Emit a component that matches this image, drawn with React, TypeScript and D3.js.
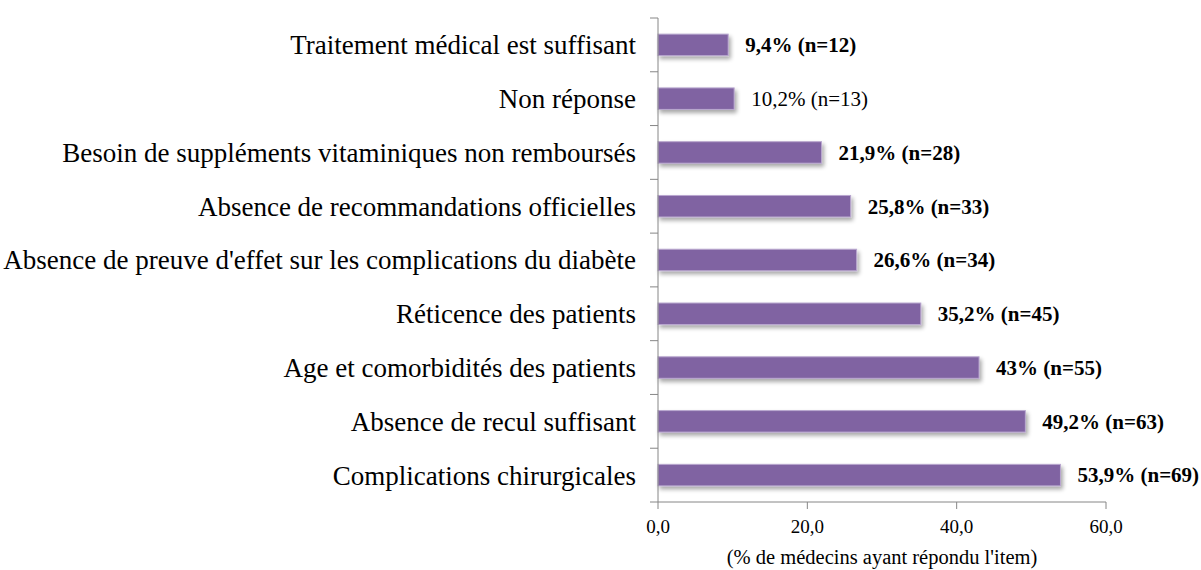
import React from "react";
import * as d3 from "d3";

const categories = [
  "Traitement médical est suffisant",
  "Non réponse",
  "Besoin de suppléments vitaminiques non remboursés",
  "Absence de recommandations officielles",
  "Absence de preuve d'effet sur les complications du diabète",
  "Réticence des patients",
  "Age et comorbidités des patients",
  "Absence de recul suffisant",
  "Complications chirurgicales",
];
const values = [9.4, 10.2, 21.9, 25.8, 26.6, 35.2, 43, 49.2, 53.9];
const labels = [
  "9,4% (n=12)",
  "10,2% (n=13)",
  "21,9% (n=28)",
  "25,8% (n=33)",
  "26,6% (n=34)",
  "35,2% (n=45)",
  "43% (n=55)",
  "49,2% (n=63)",
  "53,9% (n=69)",
];
const boldLabel = [true, false, true, true, true, true, true, true, true];
const xTicks = [0, 20, 40, 60];
const xTickLabels = ["0,0", "20,0", "40,0", "60,0"];
const axisTitle = "(% de médecins ayant répondu l'item)";

export default function App() {
  const W = 1201, H = 570;
  const x0 = 658, x1 = 1106, yTop = 18, yBot = 502;
  const x = d3.scaleLinear().domain([0, 60]).range([x0, x1]);
  const y = d3.scaleBand().domain(categories).range([yTop, yBot]).paddingInner(0.6).paddingOuter(0.3);
  const yEdges = d3.range(categories.length + 1).map((i) => yTop + ((yBot - yTop) * i) / categories.length);
  const font = "'Liberation Serif', 'Times New Roman', serif";
  return (
    <svg width={W} height={H} style={{ position: "absolute", left: 0, top: 0, background: "#fff" }}>
      <defs>
        <filter id="sh" x="-5%" y="-30%" width="115%" height="190%">
          <feGaussianBlur in="SourceAlpha" stdDeviation="2" />
          <feOffset dx="2" dy="3" result="b" />
          <feComponentTransfer><feFuncA type="linear" slope="0.35" /></feComponentTransfer>
          <feMerge><feMergeNode /><feMergeNode in="SourceGraphic" /></feMerge>
        </filter>
      </defs>
      {categories.map((c, i) => {
        const yy = y(c)!;
        const bw = y.bandwidth();
        return (
          <g key={c}>
            <rect x={x(0)} y={yy} width={x(values[i]) - x(0)} height={bw} fill="#8064A2" stroke="#B9A7CF" strokeWidth={1} filter="url(#sh)" />
            <text x={636} y={yy + bw / 2} dy="0.35em" textAnchor="end" fontFamily={font} fontSize={27} fill="#000">{c}</text>
            <text x={x(values[i]) + 17} y={yy + bw / 2} dy="0.35em" fontFamily={font} fontSize={21} fontWeight={boldLabel[i] ? "bold" : "normal"} fill="#000">{labels[i]}</text>
          </g>
        );
      })}
      <line x1={x0} x2={x0} y1={yTop} y2={yBot} stroke="#868686" strokeWidth={1} />
      {yEdges.map((e, i) => (
        <line key={i} x1={x0 - 8} x2={x0} y1={e} y2={e} stroke="#868686" strokeWidth={1} />
      ))}
      <line x1={x0} x2={x1} y1={yBot} y2={yBot} stroke="#868686" strokeWidth={1} />
      {xTicks.map((t, i) => (
        <g key={t}>
          <line x1={x(t)} x2={x(t)} y1={yBot} y2={yBot + 7} stroke="#868686" strokeWidth={1} />
          <text x={x(t)} y={533} textAnchor="middle" fontFamily={font} fontSize={19} fill="#000">{xTickLabels[i]}</text>
        </g>
      ))}
      <text x={(x0 + x1) / 2} y={564} textAnchor="middle" fontFamily={font} fontSize={20.5} fill="#000">{axisTitle}</text>
    </svg>
  );
}
